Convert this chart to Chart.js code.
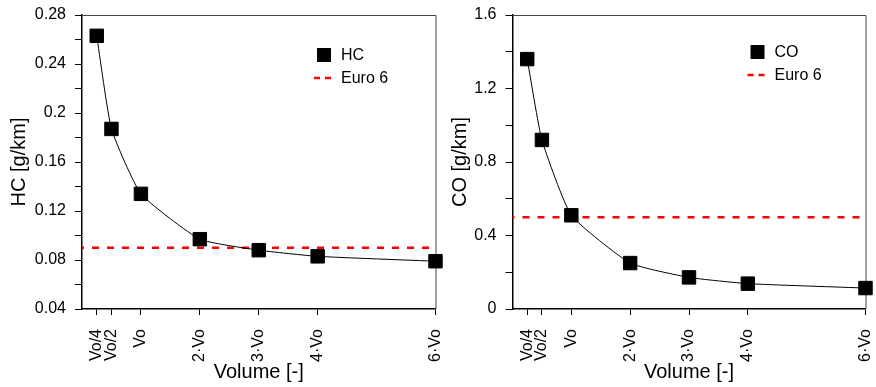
<!DOCTYPE html>
<html>
<head>
<meta charset="utf-8">
<script src="https://cdn.jsdelivr.net/npm/chart.js@4.4.0/dist/chart.umd.min.js"></script>
<style>
  body { margin: 0; background: #fff; }
  canvas { position: absolute; top: 0; }
</style>
</head>
<body>
<canvas id="hc_chart" width="446" height="387" style="left:0"></canvas>
<canvas id="co_chart" width="440" height="387" style="left:436px"></canvas>
<script>
// volume steps along x (in units of Vo) and their labels
const volume_pos = [0.25, 0.5, 1, 2, 3, 4, 6];
const volume_labels = ['Vo/4', 'Vo/2', 'Vo', '2·Vo', '3·Vo', '4·Vo', '6·Vo'];

// emissions per volume step [g/km]
const hc_values = [0.263, 0.187, 0.134, 0.097, 0.088, 0.083, 0.079];
const co_values = [1.36, 0.92, 0.51, 0.25, 0.172, 0.138, 0.114];

// Euro 6 limits [g/km]
const hc_limit = 0.09;
const co_limit = 0.5;

// y axis range and minor step
const hc_y_range = [0.04, 0.28];
const co_y_range = [0, 1.6];
const hc_y_step = 0.02;
const co_y_step = 0.2;

const font_family = "'Liberation Sans', Arial, sans-serif";
Chart.defaults.font.family = font_family;
Chart.defaults.color = '#000';

// box edges on top/right
const frame_plugin = {
  id: 'frame_plugin',
  beforeDatasetsDraw(chart) {
    const {ctx, chartArea: a} = chart;
    ctx.save();
    ctx.strokeStyle = '#444';
    ctx.lineWidth = 1;
    ctx.beginPath();
    ctx.moveTo(a.left, a.top + 0.5);
    ctx.lineTo(a.right + 0.5, a.top + 0.5);
    ctx.lineTo(a.right + 0.5, a.bottom);
    ctx.stroke();
    ctx.restore();
  }
};

// legend drawn inside the plot, upper right
const legend_plugin = {
  id: 'legend_plugin',
  afterDatasetsDraw(chart, args, opts) {
    const {ctx, chartArea: a} = chart;
    const x = a.left + opts.x;
    const y = a.top + opts.y;
    ctx.save();
    ctx.fillStyle = '#000';
    ctx.fillRect(x - 7, y - 7, 14, 14);
    ctx.strokeStyle = '#ff0000';
    ctx.lineWidth = 2.5;
    ctx.setLineDash([6, 5]);
    ctx.beginPath();
    ctx.moveTo(x - 10, y + opts.gap);
    ctx.lineTo(x + 9, y + opts.gap);
    ctx.stroke();
    ctx.setLineDash([]);
    ctx.font = '16px ' + font_family;
    ctx.textBaseline = 'middle';
    ctx.fillText(opts.label, x + 17, y + 1);
    ctx.fillText('Euro 6', x + 17, y + opts.gap + 1);
    ctx.restore();
  }
};

function fmt(v) {
  return parseFloat(v.toFixed(2)).toString();
}

function make_chart(canvas_id, o) {
  return new Chart(document.getElementById(canvas_id), {
    type: 'line',
    data: {
      datasets: [{
        label: o.name,
        data: volume_pos.map((v, i) => ({x: v, y: o.values[i]})),
        borderColor: '#000',
        borderWidth: 1,
        tension: 0.15,
        pointStyle: 'rect',
        pointRadius: 9.5,
        pointBackgroundColor: '#000',
        pointBorderColor: '#000',
        pointBorderWidth: 1,
        clip: false
      }, {
        label: 'Euro 6',
        data: [{x: 0, y: o.limit}, {x: 6, y: o.limit}],
        borderColor: '#ff0000',
        borderWidth: 2.5,
        borderDash: [7, 8],
        borderDashOffset: 5,
        pointRadius: 0,
        clip: false
      }]
    },
    options: {
      responsive: false,
      animation: false,
      events: [],
      layout: { padding: { top: 15, right: o.pad_right, left: 0, bottom: 0 } },
      plugins: {
        legend: { display: false },
        tooltip: { enabled: false },
        legend_plugin: { x: o.legend_x, y: o.legend_y, gap: 23, label: o.name }
      },
      scales: {
        x: {
          type: 'linear',
          min: 0,
          max: 6,
          afterBuildTicks: s => { s.ticks = volume_pos.map(v => ({value: v})); },
          afterFit: s => { s.height = 78; s.paddingLeft = 0; s.paddingRight = 0; },
          ticks: {
            autoSkip: false,
            minRotation: 90,
            maxRotation: 90,
            padding: 14,
            font: { size: 16 },
            callback: (v, i) => volume_labels[i]
          },
          grid: { drawOnChartArea: false, tickLength: 6, tickColor: '#000' },
          border: { color: '#000', width: 1.5 },
          title: { display: true, text: 'Volume [-]', font: { size: 20 }, padding: { top: 0, bottom: 3 } }
        },
        y: {
          min: o.y_range[0],
          max: o.y_range[1],
          afterFit: s => { s.width = o.y_width; s.paddingTop = 0; s.paddingBottom = 0; },
          ticks: {
            stepSize: o.y_step,
            autoSkip: false,
            padding: 9,
            font: { size: 16 },
            callback: (v, i) => i % 2 === 0 ? fmt(v) : ''
          },
          grid: { drawOnChartArea: false, tickLength: 7, tickColor: '#000' },
          border: { color: '#000', width: 1.5 },
          title: { display: true, text: o.name + ' [g/km]', font: { size: 20 }, padding: { top: o.title_pad, bottom: 0 } }
        }
      }
    },
    plugins: [frame_plugin, legend_plugin]
  });
}

make_chart('hc_chart', {
  name: 'HC', values: hc_values, limit: hc_limit,
  y_range: hc_y_range, y_step: hc_y_step,
  y_width: 82, pad_right: 10.5, title_pad: 7,
  legend_x: 242, legend_y: 40
});

make_chart('co_chart', {
  name: 'CO', values: co_values, limit: co_limit,
  y_range: co_y_range, y_step: co_y_step,
  y_width: 76.5, pad_right: 10.5, title_pad: 12,
  legend_x: 245, legend_y: 37
});
</script>
</body>
</html>
